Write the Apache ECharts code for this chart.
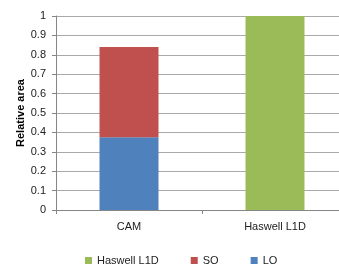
<!DOCTYPE html>
<html>
<head>
<meta charset="utf-8">
<script src="https://cdn.jsdelivr.net/npm/echarts@6/dist/echarts.min.js"></script>
<style>
html,body{margin:0;padding:0;background:#fff;}
#chart{width:339px;height:264px;}
</style>
</head>
<body>
<div id="chart"></div>
<script>
var categories = ['CAM', 'Haswell L1D'];
var lqValues = [0.375, 0];
var sqValues = [0.465, 0];
var haswellValues = [0, 1];
var legendOrder = ['Haswell L1D', 'SQ', 'LQ'];

var myChart = echarts.init(document.getElementById('chart'));
var font = 'Liberation Sans, Arial, sans-serif';
var option = {
	animation : false,
	textStyle : { fontFamily : font },
	grid : { left : 56, top : 16, height : 194, width : 292, outerBoundsMode : 'none', containLabel : false },
	legend : {
		data : legendOrder,
		left : 85,
		top : 255,
		padding : 0,
		icon : 'rect',
		itemWidth : 7,
		itemHeight : 7,
		itemGap : 32,
		textStyle : { fontSize : 11, color : '#222', fontFamily : font }
	},
	xAxis : {
		type : 'category',
		data : categories,
		axisLine : { lineStyle : { color : '#868686', width : 1 } },
		axisTick : { show : true, length : 4, lineStyle : { color : '#868686' } },
		axisLabel : { fontSize : 11, color : '#222', margin : 11, fontFamily : font }
	},
	yAxis : {
		type : 'value',
		min : 0,
		max : 1,
		interval : 0.1,
		name : 'Relative area',
		nameLocation : 'middle',
		nameGap : 30,
		nameMoveOverlap : false,
		nameTextStyle : { fontSize : 11, fontWeight : 'bold', color : '#000', fontFamily : font },
		axisLine : { show : true, lineStyle : { color : '#868686', width : 1 } },
		axisTick : { show : true, length : 4, lineStyle : { color : '#868686' } },
		axisLabel : { fontSize : 11, color : '#222', margin : 10, fontFamily : font },
		splitLine : { lineStyle : { color : '#a9a9a9', width : 1 } }
	},
	series : [
		{ name : 'LQ', type : 'bar', stack : 'a', data : lqValues, barWidth : 59, itemStyle : { color : '#4f81bd' } },
		{ name : 'SQ', type : 'bar', stack : 'a', data : sqValues, barWidth : 59, itemStyle : { color : '#c0504d' } },
		{ name : 'Haswell L1D', type : 'bar', stack : 'a', data : haswellValues, barWidth : 59, itemStyle : { color : '#9bbb59' } }
	]
};
myChart.setOption(option, true);
</script>
</body>
</html>
